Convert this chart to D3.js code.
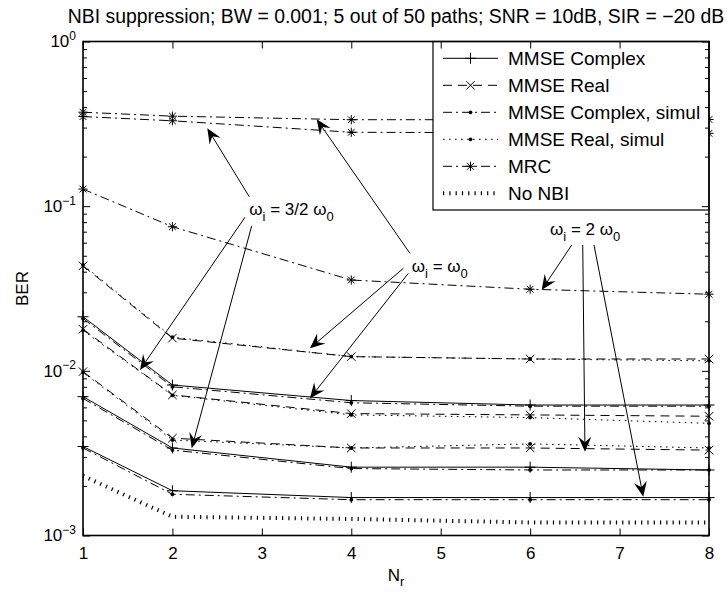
<!DOCTYPE html>
<html>
<head>
<meta charset="utf-8">
<script src="https://cdn.jsdelivr.net/npm/d3@7"></script>
<style>
  html, body { margin: 0; padding: 0; background: #fff; }
  svg { display: block; font-family: "Liberation Sans", Arial, Helvetica, sans-serif; }
</style>
</head>
<body>
<svg id="chart" width="727" height="592"></svg>
<script>
// Number of receive antennas
const nr = [1, 2, 4, 6, 8];

// MRC combining, interference at w0, 3/2 w0 and 2 w0
const mrcW0  = [0.372, 0.352, 0.335, 0.335, 0.336];
const mrcW15 = [0.350, 0.330, 0.281, 0.279, 0.277];
const mrcW2  = [0.127, 0.075, 0.0356, 0.0313, 0.0292];

// MMSE, complex-valued processing (analysis)
const cplxW0  = [0.0213, 0.0082, 0.0066, 0.0062, 0.0062];
const cplxW15 = [0.00697, 0.0034, 0.0026, 0.0026, 0.0025];
const cplxW2  = [0.00347, 0.00187, 0.0017, 0.0017, 0.0017];

// MMSE, real-valued processing (analysis)
const realW0  = [0.0434, 0.0158, 0.0122, 0.0118, 0.0118];
const realW15 = [0.0179, 0.00714, 0.0055, 0.0054, 0.0053];
const realW2  = [0.00989, 0.0039, 0.0034, 0.0034, 0.0033];

// MMSE, simulation results
const cplxSimW0  = [0.0208, 0.0080, 0.0064, 0.0061, 0.0061];
const cplxSimW15 = [0.0068, 0.0033, 0.00255, 0.0025, 0.0025];
const cplxSimW2  = [0.0034, 0.00178, 0.00165, 0.00165, 0.00165];
const realSimW0  = [0.0440, 0.0160, 0.0122, 0.0118, 0.0115];
const realSimW15 = [0.0176, 0.0071, 0.0054, 0.0052, 0.0048];
const realSimW2  = [0.0098, 0.0038, 0.0034, 0.0036, 0.0034];

// Reference without narrowband interference
const noNbi = [0.0023, 0.0013, 0.00126, 0.0012, 0.0012];

// Axis ticks
const xTicks = [1, 2, 3, 4, 5, 6, 7, 8];
const yDecades = [-3, -2, -1, 0];

const legendLabels = ["MMSE Complex", "MMSE Real", "MMSE Complex, simul",
                      "MMSE Real, simul", "MRC", "No NBI"];

// Annotation labels: [Nr, BER] anchor of the text
const noteW15 = { text: "3/2 ", at: [2.86, 0.0884] };
const noteW0  = { text: "",     at: [4.676, 0.0398] };
const noteW2  = { text: "2 ",   at: [6.222, 0.0668] };

// Arrows: [Nr, BER] start and tip
const arrowsW15 = [[[2.859, 0.1142], [2.390, 0.2972]],
                   [[2.811, 0.0856], [1.637, 0.01012]],
                   [[2.886, 0.0758], [2.2155, 0.003386]]];
const arrowsW0  = [[[4.656, 0.0517], [3.613, 0.3370]],
                   [[4.582, 0.04195], [3.538, 0.01370]],
                   [[4.638, 0.03912], [3.538, 0.006811]]];
const arrowsW2  = [[[6.465, 0.05809], [6.129, 0.03097]],
                   [[6.588, 0.05809], [6.613, 0.003228]],
                   [[6.714, 0.05809], [7.265, 0.001721]]];

// ---------------------------------------------------------------------
const styles = {
  solid:   { dash: null,          width: 1 },
  dashed:  { dash: "9,6",         width: 1 },
  dashdot: { dash: "9,4,2,4",     width: 1 },
  dotted:  { dash: "1.6,4.4",     width: 1 },
  ticks:   { dash: "1.2,5.1",     width: 4 }
};

const series = [
  { v: mrcW0,  line: "dashdot", mark: "star" },
  { v: mrcW15, line: "dashdot", mark: "star" },
  { v: mrcW2,  line: "dashdot", mark: "star" },
  { v: realSimW0,  line: "dotted",  mark: "dot" },
  { v: realSimW15, line: "dotted",  mark: "dot" },
  { v: realSimW2,  line: "dotted",  mark: "dot" },
  { v: cplxSimW0,  line: "dashdot", mark: "dot" },
  { v: cplxSimW15, line: "dashdot", mark: "dot" },
  { v: cplxSimW2,  line: "dashdot", mark: "dot" },
  { v: realW0,  line: "dashed", mark: "times" },
  { v: realW15, line: "dashed", mark: "times" },
  { v: realW2,  line: "dashed", mark: "times" },
  { v: cplxW0,  line: "solid",  mark: "plus" },
  { v: cplxW15, line: "solid",  mark: "plus" },
  { v: cplxW2,  line: "solid",  mark: "plus" },
  { v: noNbi,   line: "ticks",  mark: null }
];

const legendStyles = [
  { line: "solid",   mark: "plus" },
  { line: "dashed",  mark: "times" },
  { line: "dashdot", mark: "dot" },
  { line: "dotted",  mark: "dot" },
  { line: "dashdot", mark: "star" },
  { line: "ticks",   mark: null }
];

const box = { left: 83, right: 709, top: 41.5, bottom: 535.5 };

const svg = d3.select("#chart");

const x = d3.scaleLinear().domain([1, 8]).range([box.left, box.right]);
const y = d3.scaleLog().domain([1e-3, 1]).range([box.bottom, box.top]);

function markerPath(type, cx, cy) {
  const p = d3.path();
  if (type === "plus" || type === "star") {
    const s = type === "plus" ? 5.5 : 4.6;
    p.moveTo(cx - s, cy); p.lineTo(cx + s, cy);
    p.moveTo(cx, cy - s); p.lineTo(cx, cy + s);
  }
  if (type === "times" || type === "star") {
    const s = type === "times" ? 4.2 : 3.4;
    p.moveTo(cx - s, cy - s); p.lineTo(cx + s, cy + s);
    p.moveTo(cx - s, cy + s); p.lineTo(cx + s, cy - s);
  }
  return p.toString();
}

function drawMarker(g, type, cx, cy) {
  if (!type) return;
  if (type === "dot") {
    g.append("circle").attr("cx", cx).attr("cy", cy).attr("r", 1.9).attr("fill", "#000");
  } else {
    g.append("path").attr("d", markerPath(type, cx, cy))
      .attr("stroke", "#000").attr("stroke-width", 1).attr("fill", "none");
  }
}

function styleLine(sel, key) {
  const st = styles[key];
  sel.attr("fill", "none").attr("stroke", "#000")
     .attr("stroke-width", st.width)
     .attr("stroke-dasharray", st.dash);
}

// Curves
const line = d3.line().x((d, i) => x(nr[i])).y(d => y(d));
const plot = svg.append("g");
series.forEach(s => {
  plot.append("path").datum(s.v).attr("d", line).call(styleLine, s.line);
  s.v.forEach((v, i) => drawMarker(plot, s.mark, x(nr[i]), y(v)));
});

// Arrows with swept-back heads
const ann = svg.append("g");
function drawArrow(a) {
  const x0 = x(a[0][0]), y0 = y(a[0][1]);
  const x1 = x(a[1][0]), y1 = y(a[1][1]);
  const rad = Math.atan2(y1 - y0, x1 - x0);
  ann.append("line").attr("x1", x0).attr("y1", y0)
     .attr("x2", x1 - 8 * Math.cos(rad))
     .attr("y2", y1 - 8 * Math.sin(rad))
     .attr("stroke", "#000").attr("stroke-width", 1);
  ann.append("path").attr("d", "M0,0L-15,-6.5L-9.5,0L-15,6.5Z")
     .attr("transform", `translate(${x1},${y1}) rotate(${rad * 180 / Math.PI})`)
     .attr("fill", "#000");
}
[...arrowsW15, ...arrowsW0, ...arrowsW2].forEach(drawArrow);

function drawNote(n) {
  const t = ann.append("text").attr("x", x(n.at[0])).attr("y", y(n.at[1]))
    .attr("font-size", 17).attr("fill", "#000");
  t.append("tspan").text("ω");
  t.append("tspan").attr("dy", 6).attr("font-size", 13).text("i");
  t.append("tspan").attr("dy", -6).text(" = " + n.text + "ω");
  t.append("tspan").attr("dy", 6).attr("font-size", 13).text("0");
}
[noteW15, noteW0, noteW2].forEach(drawNote);

// Legend
const lg = svg.append("g");
lg.append("rect").attr("x", 433).attr("y", box.top).attr("width", box.right - 433)
  .attr("height", 210 - box.top).attr("fill", "#fff").attr("stroke", "#000").attr("stroke-width", 1.2);
legendLabels.forEach((lab, i) => {
  const cy = 58.3 + i * 27;
  const st = legendStyles[i];
  lg.append("line").attr("x1", 443).attr("x2", 498).attr("y1", cy).attr("y2", cy)
    .call(styleLine, st.line);
  drawMarker(lg, st.mark, 470.5, cy);
  lg.append("text").attr("x", 508).attr("y", cy + 6.6).attr("font-size", 19).text(lab);
});

// Axes: ticks point inward on all four sides
const fmtNone = () => "";
const majorY = yDecades.map(e => Math.pow(10, e));
const minorY = [];
yDecades.slice(0, -1).forEach(e => { for (let k = 2; k <= 9; k++) minorY.push(k * Math.pow(10, e)); });

const axB = svg.append("g").attr("transform", `translate(0,${box.bottom})`)
  .call(d3.axisBottom(x).tickValues(xTicks).tickSizeInner(-7).tickSizeOuter(0)
        .tickPadding(11.5).tickFormat(d3.format("d")));
const axT = svg.append("g").attr("transform", `translate(0,${box.top})`)
  .call(d3.axisTop(x).tickValues(xTicks).tickSizeInner(-7).tickSizeOuter(0).tickFormat(fmtNone));
const axL = svg.append("g").attr("transform", `translate(${box.left},0)`)
  .call(d3.axisLeft(y).tickValues(majorY).tickSizeInner(-7).tickSizeOuter(0).tickPadding(7));
const axLm = svg.append("g").attr("transform", `translate(${box.left},0)`)
  .call(d3.axisLeft(y).tickValues(minorY).tickSizeInner(-4).tickSizeOuter(0).tickFormat(fmtNone));
const axR = svg.append("g").attr("transform", `translate(${box.right},0)`)
  .call(d3.axisRight(y).tickValues(majorY).tickSizeInner(-7).tickSizeOuter(0).tickFormat(fmtNone));
const axRm = svg.append("g").attr("transform", `translate(${box.right},0)`)
  .call(d3.axisRight(y).tickValues(minorY).tickSizeInner(-4).tickSizeOuter(0).tickFormat(fmtNone));

[axB, axT, axL, axLm, axR, axRm].forEach(a => {
  a.select(".domain").remove();
  a.selectAll("line").attr("stroke", "#000").attr("stroke-width", 1);
  a.selectAll("text").attr("font-family", null).attr("font-size", 17).attr("fill", "#000");
});

// Decade labels as 10 with a raised exponent
axL.selectAll(".tick text").each(function (d) {
  const t = d3.select(this).text("");
  const e = Math.round(Math.log10(d));
  t.append("tspan").text("10");
  t.append("tspan").attr("dy", -7.5).attr("font-size", 12)
    .text(e < 0 ? "\u2212" + (-e) : String(e));
});

// Axes box
svg.append("rect").attr("x", box.left).attr("y", box.top)
  .attr("width", box.right - box.left).attr("height", box.bottom - box.top)
  .attr("fill", "none").attr("stroke", "#000").attr("stroke-width", 1.6);

// Titles
svg.append("text").attr("x", (box.left + box.right) / 2).attr("y", 22.5)
  .attr("text-anchor", "middle").attr("font-size", 19.4)
  .text("NBI suppression; BW = 0.001; 5 out of 50 paths; SNR = 10dB, SIR = \u221220 dB");

const xl = svg.append("text").attr("x", (box.left + box.right) / 2).attr("y", 581)
  .attr("text-anchor", "middle").attr("font-size", 17);
xl.append("tspan").text("N");
xl.append("tspan").attr("dy", 5).attr("font-size", 13).text("r");

svg.append("text").attr("transform", `translate(27.5,${(box.top + box.bottom) / 2}) rotate(-90)`)
  .attr("text-anchor", "middle").attr("font-size", 17).text("BER");
</script>
</body>
</html>
